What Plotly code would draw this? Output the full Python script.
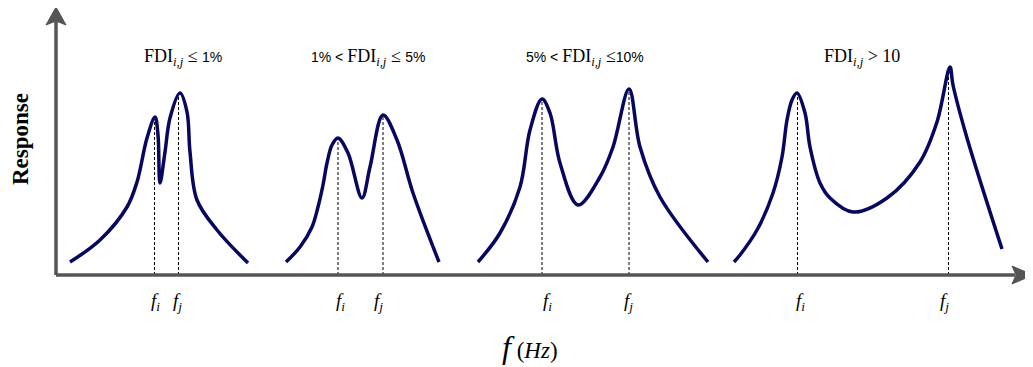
import numpy as np
import plotly.graph_objects as go

# ---- data ----
c1_x = [70, 100, 127, 137, 147, 155, 158, 160, 165, 170, 180, 187, 190, 197, 217, 248]
c1_y = [13, 35, 68, 93, 137, 158, 140, 92, 123, 157, 182, 163, 123, 75, 45, 12]
c2_x = [286, 300, 312, 318, 323, 327, 332, 338, 348, 362, 370, 383, 397, 413, 439]
c2_y = [13, 28, 48, 68, 90, 112, 130, 137, 122, 77, 108, 160, 135, 82, 13]
c3_x = [478, 500, 520, 530, 542, 550, 560, 578, 600, 613, 629, 640, 660, 708]
c3_y = [13, 42, 88, 145, 176, 162, 112, 70, 98, 128, 186, 128, 78, 13]
c4_x = [734, 740, 757, 773, 782, 787, 792, 797, 805, 810, 820, 830, 853, 887, 920, 937, 950, 953, 967, 1002]
c4_y = [13, 20, 45, 82, 118, 155, 175, 182, 162, 128, 92, 77, 63, 77, 113, 153, 208, 190, 137, 26]

fi_pos = [154.5, 338, 542, 797.5]
fj_pos = [178.5, 383, 629, 948.5]
fi_label_x = [155, 340, 547, 800]
fj_label_x = [177, 378, 628, 944]

SANS = "font-family:Liberation Sans;font-size:14px"
titles = [
    f'FDI<sub><i>i,j</i></sub> ≤ <span style="{SANS}">1%</span>',
    f'<span style="{SANS}">1% &lt; </span>FDI<sub><i>i,j</i></sub> ≤ <span style="{SANS}">5%</span>',
    f'<span style="{SANS}">5% &lt; </span>FDI<sub><i>i,j</i></sub> ≤<span style="{SANS}">10%</span>',
    'FDI<sub><i>i,j</i></sub> &gt; 10',
]
title_x = [183, 368, 585, 862]

curves = [(c1_x, c1_y), (c2_x, c2_y), (c3_x, c3_y), (c4_x, c4_y)]

NAVY = "#07075f"
AXC = "#555555"
SERIF = "Liberation Serif, DejaVu Serif, serif"

fig = go.Figure()

for (cx, cy), xi, xj in zip(curves, fi_pos, fj_pos):
    for xp in (xi, xj):
        yp = float(np.interp(xp, cx, cy))
        fig.add_trace(go.Scatter(x=[xp, xp], y=[0, yp], mode="lines",
                                 line=dict(color="black", width=1, dash="3px,2px"),
                                 hoverinfo="skip", showlegend=False))
    fig.add_trace(go.Scatter(x=cx, y=cy, mode="lines",
                             line=dict(color=NAVY, width=3.5, shape="spline", smoothing=1.0),
                             showlegend=False))

# axes (vertical and horizontal arrows)
fig.add_shape(type="line", x0=56, x1=56, y0=0, y1=255, line=dict(color=AXC, width=3.5))
fig.add_shape(type="line", x0=56, x1=1015, y0=0, y1=0, line=dict(color=AXC, width=3.5))
fig.add_shape(type="path", path="M 46,250 L 56,268 L 66,250 L 56,254 Z",
              fillcolor=AXC, line=dict(color=AXC, width=1))
fig.add_shape(type="path", path="M 1012,-9 L 1033,0 L 1012,9 L 1016,0 Z",
              fillcolor=AXC, line=dict(color=AXC, width=1))

for t, tx in zip(titles, title_x):
    fig.add_annotation(x=tx, y=218, text=t, showarrow=False,
                       font=dict(family=SERIF, size=18, color="black"))

for xl in fi_label_x:
    fig.add_annotation(x=xl, y=-27, text="<i>f<sub>i</sub></i>", showarrow=False,
                       font=dict(family=SERIF, size=19, color="black"))
for xl in fj_label_x:
    fig.add_annotation(x=xl, y=-27, text="<i>f<sub>j</sub></i>", showarrow=False,
                       font=dict(family=SERIF, size=19, color="black"))

fig.add_annotation(x=530, y=-72, showarrow=False,
                   text='<i><span style="font-size:32px">f</span></i>&nbsp;(<i>Hz</i>)',
                   font=dict(family=SERIF, size=23, color="black"))
fig.add_annotation(x=20, y=136, text="<b>Response</b>", textangle=-90, showarrow=False,
                   font=dict(family=SERIF, size=23, color="black"))

# page body has an 8px default margin: shift the ranges to compensate
fig.update_layout(
    width=1033, height=367, margin=dict(l=0, r=0, t=0, b=0),
    plot_bgcolor="white", paper_bgcolor="white",
    xaxis=dict(range=[8, 1041], visible=False, fixedrange=True),
    yaxis=dict(range=[-100, 267], visible=False, fixedrange=True),
)

fig.write_html("out.html")
